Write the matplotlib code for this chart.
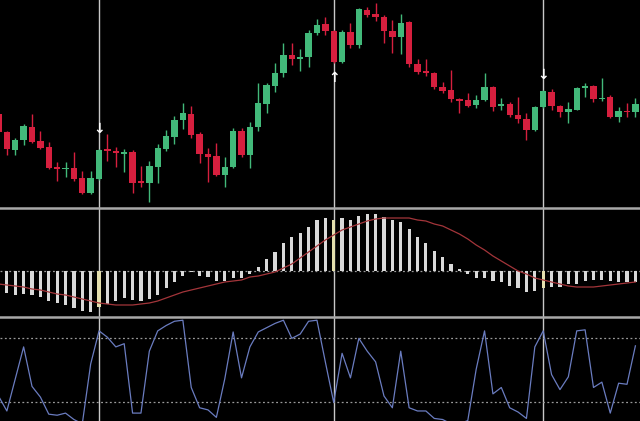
import numpy as np
import matplotlib
matplotlib.use("Agg")
import matplotlib.pyplot as plt

# candles (price units)
opens = [96, 78, 60, 70, 83, 69, 63, 43, 41, 42, 32, 17, 31, 61, 59, 56, 58, 29, 27, 43,
         61, 73, 90, 96, 76, 56, 54, 35, 43, 79, 55, 83, 106, 124, 137, 155, 151, 153, 177, 186,
         179, 148, 178, 165, 200, 196, 193, 179, 173, 188, 146, 139, 137, 123, 120, 111, 110, 105, 110, 123,
         104, 106, 95, 91, 80, 103, 118, 104, 98, 100, 122, 124, 111, 113, 93, 99, 98]
highs = [98, 79, 72, 86, 96, 79, 68, 48, 48, 58, 39, 39, 61, 76, 63, 61, 60, 44, 49, 66,
         80, 94, 107, 104, 78, 62, 67, 53, 82, 82, 88, 127, 127, 147, 167, 167, 161, 180, 191, 193,
         180, 180, 187, 202, 203, 207, 195, 190, 196, 189, 151, 151, 138, 128, 140, 112, 117, 115, 137, 124,
         112, 108, 113, 97, 104, 120, 121, 105, 108, 123, 127, 125, 132, 115, 103, 107, 112]
lows = [76, 55, 55, 65, 67, 61, 41, 29, 33, 29, 16, 16, 30, 49, 43, 38, 17, 23, 8, 27,
        59, 66, 81, 72, 47, 28, 34, 23, 42, 53, 42, 79, 97, 118, 133, 145, 139, 143, 175, 175,
        147, 147, 162, 162, 193, 189, 167, 157, 156, 143, 136, 134, 121, 117, 108, 97, 103, 102, 109, 99,
        100, 93, 87, 70, 79, 102, 100, 93, 87, 100, 113, 108, 109, 92, 88, 93, 93]
closes = [78, 61, 70, 84, 68, 62, 42, 41, 42, 31, 17, 32, 60, 59, 57, 58, 27, 27, 44, 62,
          74, 90, 97, 75, 56, 53, 35, 43, 79, 55, 83, 107, 125, 137, 155, 151, 153, 177, 185, 179,
          148, 178, 165, 201, 195, 193, 179, 173, 187, 146, 138, 137, 123, 119, 111, 109, 104, 110, 123, 103,
          106, 95, 91, 80, 103, 119, 104, 98, 101, 122, 124, 111, 112, 93, 99, 98, 106]

# MACD histogram and signal line
macd_hist = [-18, -22, -24, -23, -24, -26, -30, -32, -34, -37, -40, -41, -36, -33, -30, -27, -29, -30, -28, -24,
             -17, -11, -5, -1, -5, -6, -10, -10, -7, -7, -3, 4, 12, 19, 28, 34, 38, 44, 51, 53,
             51, 53, 51, 55, 57, 57, 54, 51, 49, 42, 34, 28, 20, 14, 7, 2, -3, -7, -7, -10,
             -11, -15, -17, -21, -20, -17, -16, -16, -13, -13, -10, -9, -9, -10, -11, -11, -11]
macd_signal = [-13, -14, -15, -16, -18, -19, -21, -23, -24, -26, -28, -30, -32, -33, -34, -34, -34, -33, -32, -30,
               -27, -24, -21, -19, -17, -15, -13, -11, -10, -9, -6, -5, -3, -1, 3, 7, 13, 19, 25, 31,
               36, 41, 44, 47, 50, 52, 53, 53, 53, 53, 51, 50, 47, 45, 41, 37, 32, 26, 21, 15,
               10, 5, 0, -3, -7, -9, -11, -13, -15, -16, -16, -16, -15, -14, -13, -12, -11]

# stochastic %K
stoch = [26, 12, 42, 72, 35, 25, 9, 8, 10, 4, 0, 56, 87, 81, 72, 75, 10, 10, 68, 87,
         92, 96, 97, 34, 15, 13, 6, 42, 86, 43, 72, 86, 90, 94, 97, 80, 84, 96, 97, 58,
         20, 66, 43, 80, 68, 58, 26, 15, 68, 15, 12, 12, 5, 4, 0, 0, 3, 51, 87, 28,
         34, 15, 11, 5, 72, 87, 46, 32, 44, 87, 88, 34, 39, 10, 38, 37, 73]

# marked bars: vertical lines and arrows
marked_bars = [12, 40, 65]
arrow_levels = [81, 132, 135]
arrow_glyphs = ["\u2193", "\u2191", "\u2193"]

green = "#42b97a"
red = "#d61f3e"
bg = "black"
sep_col = "#a8a8a8"
vline_col = "#c8c8c8"

n = len(opens)
x = np.arange(n)
opens = np.array(opens)
closes = np.array(closes)
up = closes >= opens

fig = plt.figure(figsize=(6.4, 4.21), dpi=100, facecolor=bg)
H = 421.0
ax1 = fig.add_axes([0, (H - 208) / H, 1, 208 / H])
ax2 = fig.add_axes([0, (H - 317) / H, 1, 109 / H])
ax3 = fig.add_axes([0, 0, 1, 104 / H])

for ax in (ax1, ax2, ax3):
    ax.set_facecolor(bg)
    ax.set_xlim(0.18, 76.55)
    ax.set_xticks([])
    ax.set_yticks([])
    for s in ax.spines.values():
        s.set_visible(False)
    for b in marked_bars:
        ax.axvline(b, color=vline_col, lw=1, zorder=1)

# candles
cols = np.where(up, green, red)
ax1.vlines(x, lows, highs, colors=cols, lw=1, zorder=2)
body_lo = np.minimum(opens, closes)
body_h = np.maximum(np.abs(closes - opens), 1.2)
ax1.bar(x, body_h, bottom=body_lo, width=0.76, color=cols, zorder=3)
for b, lvl, g in zip(marked_bars, arrow_levels, arrow_glyphs):
    ax1.text(b, lvl, g, color="white", fontsize=10, fontweight="bold",
             ha="center", va="center", zorder=4)
ax1.set_ylim(2, 210)

# MACD
hist_cols = ["#e4dfae" if i in marked_bars else "#d9d9d9" for i in range(n)]
ax2.bar(x, macd_hist, width=0.38, color=hist_cols, zorder=2)
ax2.axhline(0, color="#9a9a9a", lw=0.9, ls=(0, (1.5, 2)), zorder=1)
ax2.plot(x, macd_signal, color="#a3353a", lw=0.9, zorder=3)
ax2.set_ylim(-46, 63)
ax2.spines["top"].set_visible(True)
ax2.spines["top"].set_color(sep_col)
ax2.spines["top"].set_linewidth(1.8)

# stochastic
ax3.axhline(80, color="#9a9a9a", lw=0.9, ls=(0, (1.5, 2)), zorder=1)
ax3.axhline(20, color="#9a9a9a", lw=0.9, ls=(0, (1.5, 2)), zorder=1)
ax3.plot(x, stoch, color="#6a7cc0", lw=0.9, zorder=2)
ax3.set_ylim(2.6, 100)
ax3.spines["top"].set_visible(True)
ax3.spines["top"].set_color(sep_col)
ax3.spines["top"].set_linewidth(1.8)

fig.savefig("out.png", dpi=100, facecolor=bg)
